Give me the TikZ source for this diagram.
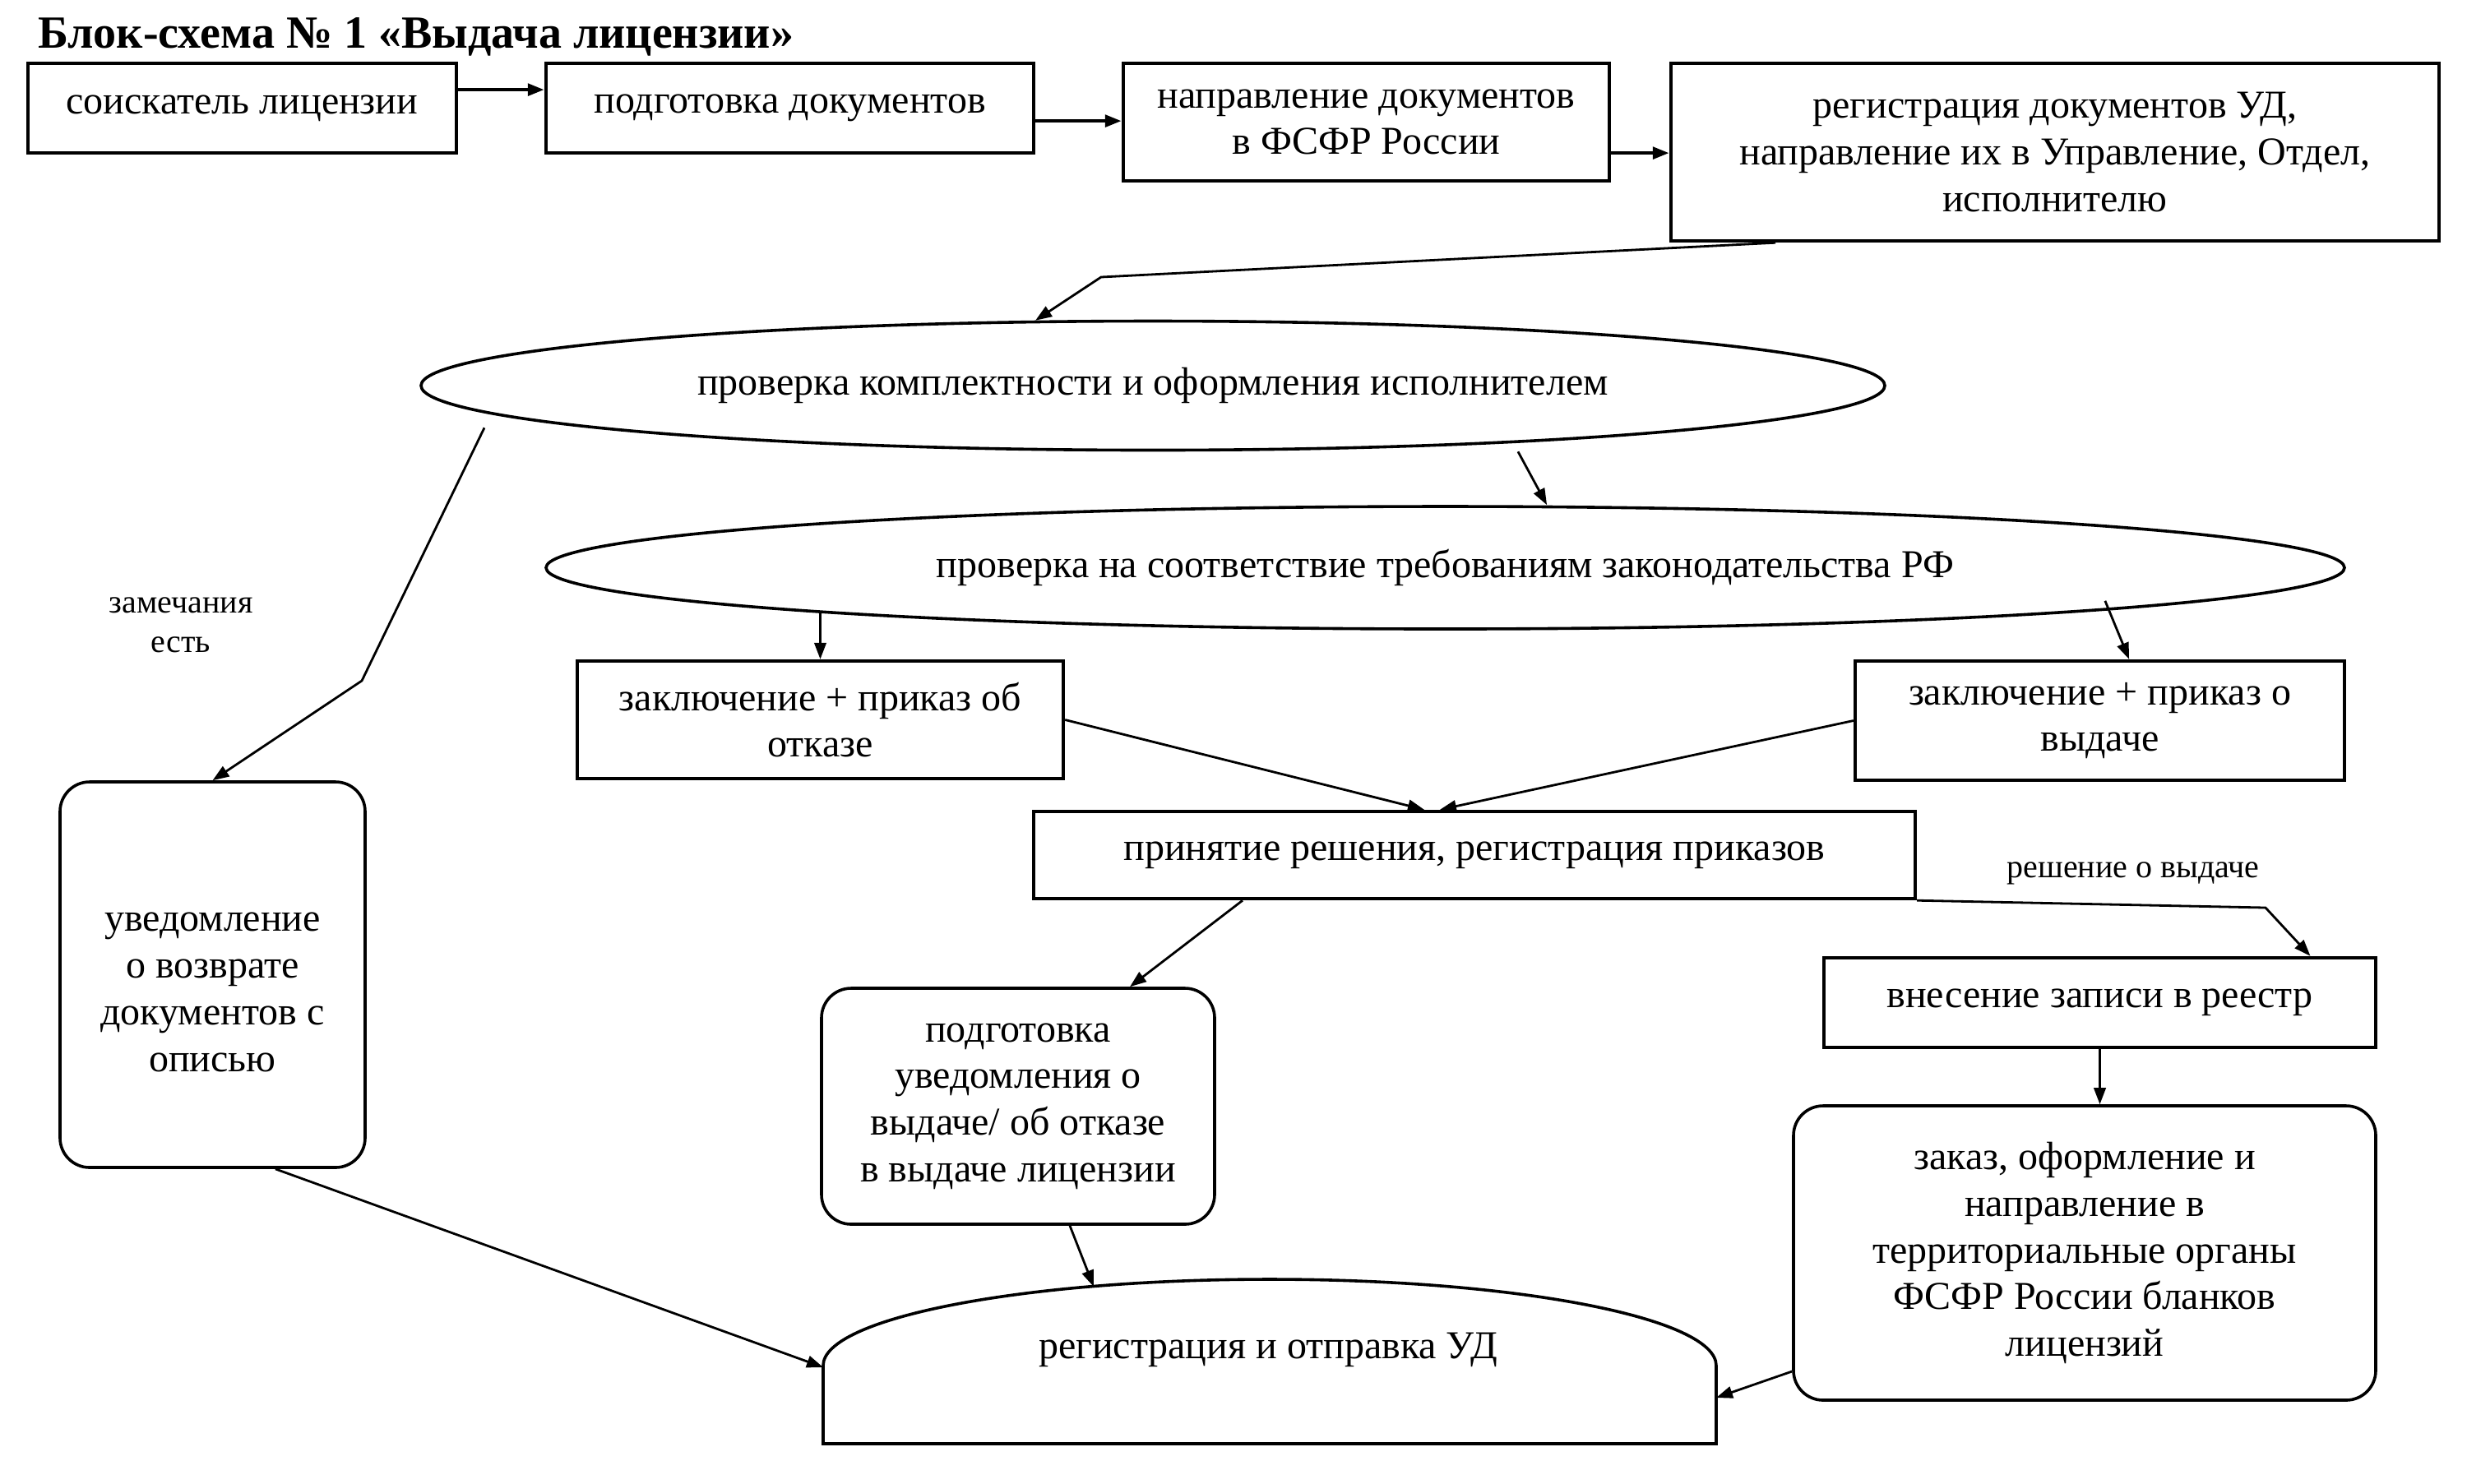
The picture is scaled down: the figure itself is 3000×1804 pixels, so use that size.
\documentclass[tikz,border=0pt]{standalone}
\usepackage{fontspec}
\setmainfont{Liberation Serif}
\usetikzlibrary{shapes.geometric,arrows.meta}
\begin{document}
\begin{tikzpicture}[x=0.25pt,y=-0.25pt,
  txt/.style={font=\fontsize{12}{14.2}\selectfont, align=center},
  box/.style={txt, draw, line width=1.1pt, inner sep=0pt},
  rbox/.style={box, rounded corners=9pt, line width=0.9pt},
  ell/.style={txt, draw, ellipse, line width=0.9pt, inner sep=0pt},
  arr/.style={-{Triangle[length=5pt,width=3.6pt]}, line width=0.7pt},
  arrb/.style={arr, line width=1.1pt},
  lbl/.style={font=\fontsize{10}{12}\selectfont, align=center}]
\useasboundingbox (0,0) rectangle (3000,1804);

\node[anchor=base west, font=\bfseries\fontsize{14}{16}\selectfont] (title) at (32,58) {Блок-схема № 1 «Выдача лицензии»};

\node[box, minimum width=130.25pt, minimum height=27.25pt] (B1) at (294.5,131.5) {соискатель лицензии};
\node[box, minimum width=148.25pt, minimum height=27.25pt] (B2) at (960.5,131.5) {подготовка документов};
\node[box, minimum width=147.75pt, minimum height=35.75pt] (B3) at (1661.5,148.5) {направление документов\\в ФСФР России};
\node[box, minimum width=233.5pt, minimum height=54pt] (B4) at (2499,185) {регистрация документов УД,\\направление их в Управление, Отдел,\\исполнителю};

\node[ell, minimum width=445pt, minimum height=39.25pt] (E1) at (1402,469) {проверка комплектности и оформления исполнителем};
\node[ell, minimum width=546.75pt, minimum height=37.25pt] (E2) at (1757.5,690.5) {проверка на соответствие требованиям законодательства РФ};

\node[box, minimum width=147.75pt, minimum height=35.75pt] (R1) at (997.5,875.5) {заключение + приказ об\\отказе};
\node[box, minimum width=148.75pt, minimum height=36.25pt] (R2) at (2553.5,876.5) {заключение + приказ о\\выдаче};
\node[box, minimum width=268pt, minimum height=26.5pt] (D) at (1793,1040) {принятие решения, регистрация приказов};
\node[box, minimum width=167.75pt, minimum height=27.25pt] (V) at (2553.5,1219.5) {внесение записи в реестр};
\node[rbox, minimum width=177pt, minimum height=89.5pt] (Z) at (2535,1524) {заказ, оформление и\\направление в\\территориальные органы\\ФСФР России бланков\\лицензий};
\node[rbox, minimum width=119.5pt, minimum height=71.75pt] (P) at (1238,1345.5) {подготовка\\уведомления о\\выдаче/ об отказе\\в выдаче лицензии};
\node[rbox, minimum width=92.75pt, minimum height=117.25pt] (U) at (258.5,1185.5) {};
\node[txt] (Ut) at (258.5,1207) {уведомление\\о возврате\\документов с\\описью};

% registration shape
\draw[line width=0.9pt] (1001,1756) -- (1001,1661) arc[start angle=180, end angle=0, x radius=135.75pt, y radius=26.25pt] -- (2087,1756) -- cycle;
\node[txt] (R) at (1542,1642) {регистрация и отправка УД};
\coordinate (Rtop) at (1330,1565);
\coordinate (Rl) at (1001,1663);
\coordinate (Rr) at (2087,1700);

\node[lbl] (L1) at (220,760) {замечания\\есть};
\node[lbl] (L2) at (2594,1062) {решение о выдаче};

% connectors
\draw[arrb] ([yshift=5.6pt]B1.east) -- ([yshift=5.6pt]B1.east -| B2.west);
\draw[arrb] ([yshift=-3.9pt]B2.east) -- ([yshift=-3.9pt]B2.east -| B3.west);
\draw[arrb] ([yshift=-9.4pt]B3.east) -- ([yshift=-9.4pt]B3.east -| B4.west);
\coordinate (k1) at (1339,337);
\draw[arr] ([xshift=-85pt]B4.south) -- (k1) -- (E1.151.7);
\draw[arr] ([xshift=111pt]E1.south) -- ([xshift=30.9pt]E2.north);
\coordinate (k2) at (440,828);
\draw[arr] ([xshift=-203.25pt,yshift=7.25pt]E1.south) -- (k2) -- (U.north);
\draw[arr] (R1.north |- E2.184) -- (R1.north);
\draw[arr] ([xshift=200.6pt,yshift=9pt]E2.south) -- ([xshift=8.9pt]R2.north);
\draw[arr] (R1.east) -- ([xshift=-15.25pt]D.north);
\draw[arr] (R2.west) -- ([xshift=-10.5pt]D.north);
\coordinate (k3) at (2755,1104);
\draw[arr] (D.south east) -- (k3) -- ([xshift=64pt]V.north);
\draw[arr] (V.south) -- (V.south |- Z.north);
\draw[arr] ([xshift=-70.5pt]D.south) -- ([xshift=34pt]P.north);
\draw[arr] ([xshift=15.75pt]P.south) -- (Rtop);
\draw[arr] ([xshift=19.1pt]U.south) -- (Rl);
\draw[arr] ([yshift=-36pt]Z.west) -- (Rr);
\end{tikzpicture}
\end{document}
